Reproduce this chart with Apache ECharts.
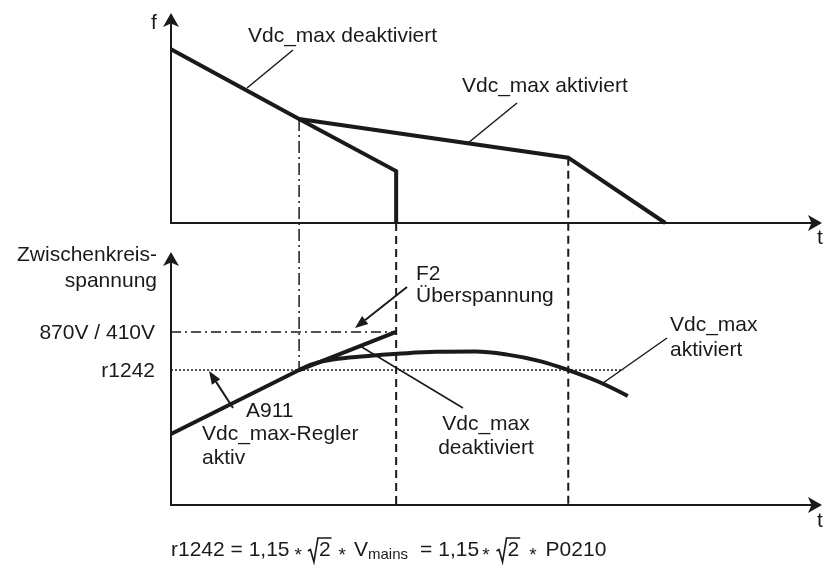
<!DOCTYPE html>
<html>
<head>
<meta charset="utf-8">
<title>Vdc_max-Regler</title>
<script src="https://cdn.jsdelivr.net/npm/echarts@6/dist/echarts.min.js"></script>
<style>
  html, body { margin: 0; padding: 0; background: #fff; }
  #chart { width: 824px; height: 566px; }
</style>
</head>
<body>
<div id="chart"></div>
<script>
// Time axis runs 0..10 (arbitrary units); both value axes run 0..10.
// Frequency f(t), upper panel
const fDeactivated = [[0, 8.43], [1.98, 5.05], [3.48, 2.52], [3.48, 0]];
const fActivated = [[1.98, 5.05], [6.14, 3.17], [7.64, 0]];

// DC link voltage, lower panel
const vDeactivated = [[0, 2.85], [1.98, 5.42], [3.48, 6.95]];
const vActivated = [
  [1.98, 5.42], [2.2, 5.67], [2.5, 5.84], [3.0, 5.97], [3.5, 6.07], [4.1, 6.15],
  [4.7, 6.16], [5.2, 6.04], [5.7, 5.78], [6.14, 5.42], [6.6, 4.96], [7.06, 4.38]
];

// Voltage levels with their labels
const levelNames = ['870V / 410V', 'r1242'];
const levelValues = [6.95, 5.42];
const levelEnds = [3.48, 6.99];

// Instants marked by vertical guide lines
const tControllerOn = 1.98;   // Vdc_max controller starts acting
const tTrip = 3.48;           // F2 trip without controller
const tRampEnd = 6.14;        // controller releases the ramp

const FONT = '"Liberation Sans", Arial, Helvetica, sans-serif';
const INK = '#1a1a1a';

const chart = echarts.init(document.getElementById('chart'), null, { renderer: 'canvas' });

function axisCommon(gridIndex) {
  return {
    type: 'value', gridIndex, min: 0, max: 10,
    axisLine: { show: true, onZero: false, lineStyle: { color: INK, width: 2 },
      symbol: ['none', 'arrow'], symbolSize: [12, 14], symbolOffset: [0, 4] },
    axisTick: { show: false }, axisLabel: { show: false }, splitLine: { show: false }
  };
}

function curve(name, data, xi, extra) {
  return Object.assign({
    name, type: 'line', xAxisIndex: xi, yAxisIndex: xi, data,
    symbol: 'none', silent: true, animation: false, z: 3,
    lineStyle: { color: INK, width: 4, join: 'miter' }
  }, extra || {});
}

function levelSeries(i, dashType) {
  return {
    name: levelNames[i], type: 'line', xAxisIndex: 1, yAxisIndex: 1, symbol: 'none',
    silent: true, animation: false, z: 1,
    lineStyle: { color: INK, width: 1.5, type: dashType },
    data: [[0, levelValues[i]], [levelEnds[i], levelValues[i]]]
  };
}

chart.setOption({
  animation: false,
  grid: [
    { left: 171, right: 6, top: 17, height: 206 },
    { left: 171, right: 6, top: 256, height: 249 }
  ],
  xAxis: [axisCommon(0), axisCommon(1)],
  yAxis: [axisCommon(0), axisCommon(1)],
  series: [
    curve('f deaktiviert', fDeactivated, 0),
    curve('f aktiviert', fActivated, 0),
    levelSeries(0, [10, 4, 2, 4]),
    levelSeries(1, [2, 2]),
    curve('U deaktiviert', vDeactivated, 1),
    curve('U aktiviert', vActivated, 1, { smooth: 0.4 })
  ]
});

// ---- overlay: guide lines spanning both panels, annotations, formula ----
const px = (g, p) => chart.convertToPixel({ gridIndex: g }, p);

function vGuide(t, yTop, yBottom, dash, width) {
  const a = px(0, [t, yTop]);
  const b = px(1, [t, yBottom]);
  return { type: 'line', silent: true, z: 0,
    shape: { x1: a[0], y1: a[1], x2: b[0], y2: b[1] },
    style: { stroke: INK, lineWidth: width, lineDash: dash } };
}

function text(s, x, y, align, size) {
  return { type: 'text', silent: true, x, y,
    style: { text: s, font: (size || 21) + 'px ' + FONT, fill: INK,
      align: align || 'left', verticalAlign: 'middle' } };
}

function leader(x1, y1, x2, y2) {
  return { type: 'line', silent: true,
    shape: { x1, y1, x2, y2 }, style: { stroke: INK, lineWidth: 1.5 } };
}

function arrow(x1, y1, x2, y2) {
  const dx = x2 - x1, dy = y2 - y1, len = Math.hypot(dx, dy);
  const ux = dx / len, uy = dy / len, L = 13, W = 5;
  const bx = x2 - ux * L, by = y2 - uy * L;
  return [
    { type: 'line', silent: true, shape: { x1, y1, x2: bx, y2: by },
      style: { stroke: INK, lineWidth: 2 } },
    { type: 'polygon', silent: true,
      shape: { points: [[x2, y2], [bx - uy * W, by + ux * W], [bx + uy * W, by - ux * W]] },
      style: { fill: INK } }
  ];
}

// formula line: r1242 = 1,15 * sqrt(2) * V_mains = 1,15 * sqrt(2) * P0210
function formula(x0, cy) {
  const ctx = document.createElement('canvas').getContext('2d');
  const out = [];
  let x = x0;
  const put = (s, size, dy) => {
    ctx.font = size + 'px ' + FONT;
    out.push(text(s, x, cy + (dy || 0), 'left', size));
    x += ctx.measureText(s).width;
  };
  const gap = (w) => { x += w; };
  const star = () => { put('*', 19, 6); };
  const sqrt = (s) => {
    ctx.font = '21px ' + FONT;
    const w = ctx.measureText(s).width;
    out.push({ type: 'polyline', silent: true,
      shape: { points: [[x, cy + 1], [x + 2.5, cy - 0.5], [x + 6, cy + 12],
                        [x + 10, cy - 12], [x + 12 + w, cy - 12]] },
      style: { stroke: INK, lineWidth: 1.6, fill: null } });
    out.push(text(s, x + 11, cy, 'left', 21));
    x += 12 + w;
  };
  put('r1242 = 1,15', 21); gap(5); star(); gap(6); sqrt('2'); gap(7); star();
  gap(8); put('V', 21); put('mains', 15, 5); gap(12); put('=', 21); gap(6);
  put('1,15', 21); gap(3); star(); gap(7); sqrt('2'); gap(9); star(); gap(9);
  put('P0210', 21);
  return out;
}

const g = [];
g.push(vGuide(tControllerOn, fDeactivated[1][1], vDeactivated[1][1], [12, 4, 2, 4], 1.5));
g.push(vGuide(tTrip, fDeactivated[2][1], 0, [8, 5], 2));
g.push(vGuide(tRampEnd, fActivated[1][1], 0, [8, 5], 2));

// level names left of the voltage axis, at each level's height
levelValues.forEach((v, i) => {
  const p = px(1, [0, v]);
  g.push(text(levelNames[i], p[0] - 16, p[1] + 1, 'right'));
});

// axis names
g.push(text('f', 154, 23, 'center'));
g.push(text('t', 820, 238, 'center'));
g.push(text('t', 820, 521, 'center'));
g.push(text('Zwischenkreis-', 157, 255, 'right'));
g.push(text('spannung', 157, 281, 'right'));

// upper panel annotations
g.push(text('Vdc_max deaktiviert', 248, 36));
g.push(leader(293, 50, 247, 88));
g.push(text('Vdc_max aktiviert', 462, 86));
g.push(leader(517, 103, 468, 143));

// lower panel annotations
g.push(text('F2', 416, 274));
g.push(text('Überspannung', 416, 296));
g.push(...arrow(407, 287, 355, 328));
g.push(text('A911', 246, 411));
g.push(text('Vdc_max-Regler', 202, 434));
g.push(text('aktiv', 202, 458));
g.push(...arrow(233, 408, 209, 371));
g.push(text('Vdc_max', 486, 424, 'center'));
g.push(text('deaktiviert', 486, 448, 'center'));
g.push(leader(360, 346, 463, 408));
g.push(text('Vdc_max', 670, 325));
g.push(text('aktiviert', 670, 350));
g.push(leader(667, 338, 603, 383));

g.push(...formula(171, 550));

chart.setOption({ graphic: g });
</script>
</body>
</html>
